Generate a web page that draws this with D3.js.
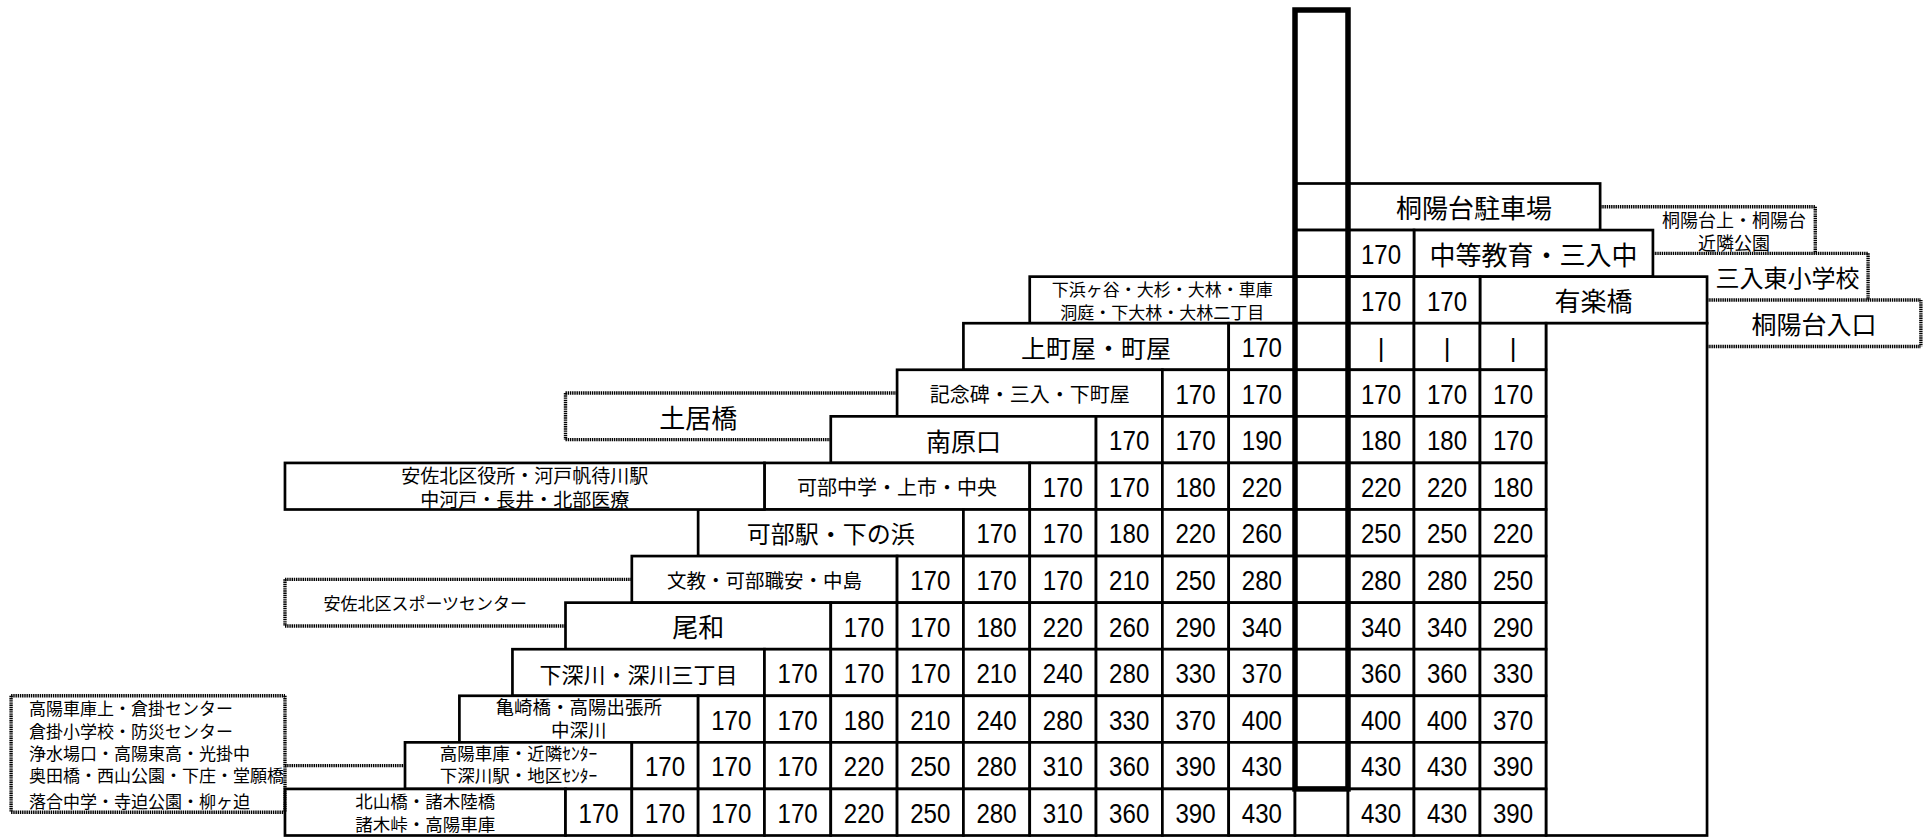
<!DOCTYPE html>
<html>
<head>
<meta charset="utf-8">
<script src="https://cdn.jsdelivr.net/npm/d3@7"></script>
<style>
  body { margin: 0; background: #fff; }
  svg { display: block; }
</style>
</head>
<body>
<svg width="1923" height="837"></svg>
<script>
// stop names, left part (rows 2..13, top to bottom)
const leftNames = [
  ['下浜ヶ谷・大杉・大林・車庫', '洞庭・下大林・大林二丁目'],
  ['上町屋・町屋'],
  ['記念碑・三入・下町屋'],
  ['南原口'],
  ['可部中学・上市・中央'],
  ['可部駅・下の浜'],
  ['文教・可部職安・中島'],
  ['尾和'],
  ['下深川・深川三丁目'],
  ['亀崎橋・高陽出張所', '中深川'],
  ['高陽車庫・近隣ｾﾝﾀｰ', '下深川駅・地区ｾﾝﾀｰ'],
  ['北山橋・諸木陸橋', '諸木峠・高陽車庫']
];
const extraName = ['安佐北区役所・河戸帆待川駅', '中河戸・長井・北部医療'];

// fares, left part (same rows, right aligned to the centre column)
const leftFares = [
  [],
  [170],
  [170, 170],
  [170, 170, 190],
  [170, 170, 180, 220],
  [170, 170, 180, 220, 260],
  [170, 170, 170, 210, 250, 280],
  [170, 170, 180, 220, 260, 290, 340],
  [170, 170, 170, 210, 240, 280, 330, 370],
  [170, 170, 180, 210, 240, 280, 330, 370, 400],
  [170, 170, 170, 220, 250, 280, 310, 360, 390, 430],
  [170, 170, 170, 170, 220, 250, 280, 310, 360, 390, 430]
];

// right part (rows 0..13)
const rightNames = ['桐陽台駐車場', '中等教育・三入中', '有楽橋'];
const rightFares = [
  [],
  [170],
  [170, 170],
  ['|', '|', '|'],
  [170, 170, 170],
  [180, 180, 170],
  [220, 220, 180],
  [250, 250, 220],
  [280, 280, 250],
  [340, 340, 290],
  [360, 360, 330],
  [400, 400, 370],
  [430, 430, 390],
  [430, 430, 390]
];

// stops on branches (dotted boxes)
const doiBashi = ['土居橋'];
const sportsCenter = ['安佐北区スポーツセンター'];
const koyoBranch = ['高陽車庫上・倉掛センター', '倉掛小学校・防災センター', '浄水場口・高陽東高・光掛中', '奥田橋・西山公園・下庄・堂願橋', '落合中学・寺迫公園・柳ヶ迫'];
const toyoBranch = [['桐陽台上・桐陽台', '近隣公園'], ['三入東小学校'], ['桐陽台入口']];

const svg = d3.select('svg');
const colX = d3.scaleLinear().domain([0, 11]).range([565.5, 1295]); // left fare columns
const rowY = d3.scaleLinear().domain([0, 14]).range([183.5, 835.5]);
const rightX = d3.scaleLinear().domain([0, 3]).range([1348, 1546]);
const jp = '"Noto Sans CJK JP", sans-serif';
const lw = 2.7;

// left edge of each left name box (column units), font size, line step, offset
const nameLeft = [7, 6, 5, 4, 3, 2, 1, 0, -0.8, -1.6, -2.42, -4.23];
const nameSize = [17, 25, 20, 25, 20, 24, 19.5, 26, 22, 18.5, 17.5, 17.5];
const nameStep = [23, 0, 0, 0, 0, 0, 0, 0, 0, 23, 22, 22.5];
const nameShift = [0, 0, 0, 0, 0, 0, 0, 0, 0, -1.5, -2, 0];

const cells = svg.append('g');
const texts = svg.append('g');
const dots = svg.append('g');

function box(x0, x1, y0, y1) {
  cells.append('rect')
    .attr('x', x0).attr('y', y0)
    .attr('width', x1 - x0).attr('height', y1 - y0)
    .attr('fill', '#fff').attr('stroke', '#000').attr('stroke-width', lw);
}

function label(x, y, lines, size, anchor = 'middle', step = size * 1.3) {
  lines.forEach((t, i) => {
    texts.append('text')
      .attr('x', x)
      .attr('y', y + (i - (lines.length - 1) / 2) * step)
      .attr('text-anchor', anchor)
      .attr('dominant-baseline', 'central')
      .attr('font-family', jp)
      .attr('font-size', size)
      .attr('fill', '#000')
      .text(t);
  });
}

function fare(x, y, v) {
  const isNum = typeof v === 'number';
  texts.append('text')
    .attr('transform', `translate(${x},${y}) scale(${isNum ? 0.86 : 1},1)`)
    .attr('text-anchor', 'middle')
    .attr('dominant-baseline', 'central')
    .attr('font-family', '"Liberation Sans", Arial, sans-serif')
    .attr('font-size', isNum ? 28 : 26)
    .attr('fill', '#000')
    .text(v);
}

// left table
leftNames.forEach((names, i) => {
  const r = i + 2;
  const fares = leftFares[i];
  const start = 11 - fares.length;
  const y0 = rowY(r), y1 = rowY(r + 1);
  box(colX(nameLeft[i]), colX(start), y0, y1);
  label((colX(nameLeft[i]) + colX(start)) / 2, (y0 + y1) / 2 + nameShift[i], names, nameSize[i], 'middle', nameStep[i]);
  fares.forEach((v, j) => {
    const c = start + j;
    box(colX(c), colX(c + 1), y0, y1);
    fare((colX(c) + colX(c + 1)) / 2, (y0 + y1) / 2 + 1, v);
  });
});
// extra box in row 6
box(colX(-4.23), colX(3), rowY(6), rowY(7));
label((colX(-4.23) + colX(3)) / 2, (rowY(6) + rowY(7)) / 2, extraName, 19, 'middle', 24);

// centre (blank) column
d3.range(14).forEach(r => box(colX(11), rightX(0), rowY(r), rowY(r + 1)));

// right table
const rightEnd = [3.82, 4.62, 5.44];
rightNames.forEach((n, r) => {
  const x0 = rightX(r), x1 = rightX(rightEnd[r]);
  box(x0, x1, rowY(r), rowY(r + 1));
  label((x0 + x1) / 2, (rowY(r) + rowY(r + 1)) / 2, [n], 26);
});
box(rightX(3), rightX(5.44), rowY(3), rowY(14));
rightFares.forEach((fares, r) => {
  fares.forEach((v, c) => {
    box(rightX(c), rightX(c + 1), rowY(r), rowY(r + 1));
    fare((rightX(c) + rightX(c + 1)) / 2, (rowY(r) + rowY(r + 1)) / 2 + 1, v);
  });
});

// thick centre column frame
svg.append('rect')
  .attr('x', colX(11)).attr('y', 10)
  .attr('width', rightX(0) - colX(11)).attr('height', rowY(13) - 10)
  .attr('fill', 'none').attr('stroke', '#000').attr('stroke-width', 5.5);

// dotted branch boxes
function dotted(x1, y1, x2, y2) {
  dots.append('line')
    .attr('x1', x1).attr('y1', y1).attr('x2', x2).attr('y2', y2)
    .attr('stroke', '#000').attr('stroke-width', 3.4)
    .attr('stroke-dasharray', '1.4,0.8');
}
// 土居橋
dotted(colX(0), rowY(4.5), colX(5), rowY(4.5));
dotted(colX(0), rowY(4.5), colX(0), rowY(5.5));
dotted(colX(0), rowY(5.5), colX(4), rowY(5.5));
label((colX(0) + colX(4)) / 2, rowY(5), doiBashi, 26);
// スポーツセンター
dotted(colX(-4.23), rowY(8.5), colX(1), rowY(8.5));
dotted(colX(-4.23), rowY(8.5), colX(-4.23), rowY(9.5));
dotted(colX(-4.23), rowY(9.5), colX(0), rowY(9.5));
label((colX(-4.23) + colX(0)) / 2, rowY(9), sportsCenter, 17);
// 高陽 branch
dotted(colX(-8.36), rowY(11), colX(-4.23), rowY(11));
dotted(colX(-8.36), rowY(11), colX(-8.36), rowY(13.5));
dotted(colX(-8.36), rowY(13.5), colX(-4.23), rowY(13.5));
dotted(colX(-4.23), rowY(11), colX(-4.23), rowY(13.5));
dotted(colX(-4.23), rowY(12.5), colX(-2.42), rowY(12.5));
label(colX(-8.36) + 18, rowY(11) + 12 + 1.5 * 22.4, koyoBranch.slice(0, 4), 17, 'start', 22.4);
label(colX(-8.36) + 18, rowY(11) + 105, koyoBranch.slice(4), 17, 'start');
// 桐陽台 branch
dotted(rightX(3.82), rowY(0.5), rightX(7.08), rowY(0.5));
dotted(rightX(7.08), rowY(0.5), rightX(7.08), rowY(1.5));
dotted(rightX(4.62), rowY(1.5), rightX(7.88), rowY(1.5));
dotted(rightX(7.88), rowY(1.5), rightX(7.88), rowY(2.5));
dotted(rightX(5.44), rowY(2.5), rightX(8.68), rowY(2.5));
dotted(rightX(8.68), rowY(2.5), rightX(8.68), rowY(3.5));
dotted(rightX(5.44), rowY(3.5), rightX(8.68), rowY(3.5));
label((rightX(4.62) + rightX(7.08)) / 2, rowY(1), toyoBranch[0], 18, 'middle', 23);
label((rightX(5.44) + rightX(7.88)) / 2, rowY(2), toyoBranch[1], 24);
label((rightX(5.44) + rightX(8.68)) / 2, rowY(3), toyoBranch[2], 25);
</script>
</body>
</html>
